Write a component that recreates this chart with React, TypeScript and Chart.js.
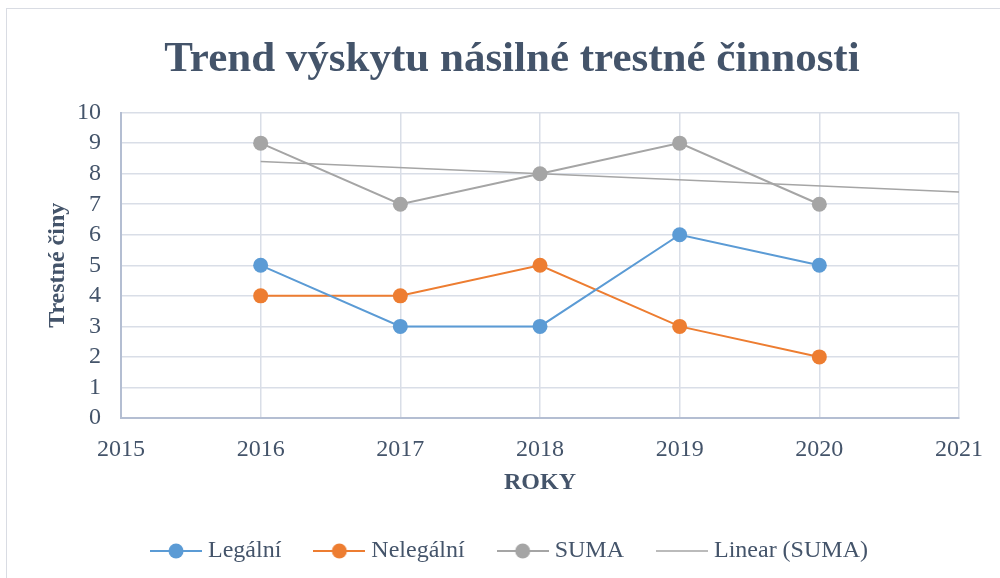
import React, { useEffect, useRef } from "react";
import { Chart, registerables } from "chart.js";

Chart.register(...registerables);

const years = [2016, 2017, 2018, 2019, 2020];
const legalni = [5, 3, 3, 6, 5];
const nelegalni = [4, 4, 5, 3, 2];
const suma = [9, 7, 8, 9, 7];
const trendYears = [2016, 2021];
const trendValues = [8.4, 7.4];
const xTicks = [2015, 2016, 2017, 2018, 2019, 2020, 2021];
const yTicks = [0, 1, 2, 3, 4, 5, 6, 7, 8, 9, 10];

const BLUE = "#5B9BD5";
const ORANGE = "#ED7D31";
const GREY = "#A5A5A5";
const TEXT = "#44546A";
const FONT = "'Liberation Serif', 'Times New Roman', serif";

function legendIcon(color: string, withDot: boolean): HTMLCanvasElement {
  const c = document.createElement("canvas");
  c.width = 52;
  c.height = 16;
  const ctx = c.getContext("2d")!;
  ctx.strokeStyle = color;
  ctx.lineWidth = withDot ? 2 : 1.5;
  ctx.beginPath();
  ctx.moveTo(0, 8);
  ctx.lineTo(52, 8);
  ctx.stroke();
  if (withDot) {
    ctx.fillStyle = color;
    ctx.beginPath();
    ctx.arc(26, 8, 7.5, 0, Math.PI * 2);
    ctx.fill();
  }
  return c;
}

export default function App() {
  const ref = useRef<HTMLCanvasElement>(null);

  useEffect(() => {
    document.body.style.margin = "0";
    const icons = [
      legendIcon(BLUE, true),
      legendIcon(ORANGE, true),
      legendIcon(GREY, true),
      legendIcon(GREY, false),
    ];
    const toXY = (xs: number[], ys: number[]) => xs.map((x, i) => ({ x, y: ys[i] }));
    const chart = new Chart(ref.current!, {
      type: "line",
      data: {
        datasets: [
          {
            label: "Legální",
            data: toXY(years, legalni),
            borderColor: BLUE,
            backgroundColor: BLUE,
            borderWidth: 2,
            pointRadius: 7.5,
            pointBorderWidth: 0,
          },
          {
            label: "Nelegální",
            data: toXY(years, nelegalni),
            borderColor: ORANGE,
            backgroundColor: ORANGE,
            borderWidth: 2,
            pointRadius: 7.5,
            pointBorderWidth: 0,
          },
          {
            label: "SUMA",
            data: toXY(years, suma),
            borderColor: GREY,
            backgroundColor: GREY,
            borderWidth: 2,
            pointRadius: 7.5,
            pointBorderWidth: 0,
          },
          {
            label: "Linear (SUMA)",
            data: toXY(trendYears, trendValues),
            borderColor: GREY,
            backgroundColor: GREY,
            borderWidth: 1.5,
            pointRadius: 0,
          },
        ],
      },
      options: {
        animation: false,
        responsive: false,
        layout: { padding: { left: 65, right: 41, top: 0, bottom: 5 } },
        elements: { point: { pointStyle: "circle" } },
        plugins: {
          tooltip: { enabled: false },
          title: {
            display: true,
            text: "Trend výskytu násilné trestné činnosti",
            color: TEXT,
            font: { family: FONT, size: 43, weight: "bold" },
            padding: { top: 34, bottom: 27 },
          },
          legend: {
            position: "bottom",
            labels: {
              usePointStyle: true,
              pointStyleWidth: 40,
              padding: 38,
              color: TEXT,
              font: { family: FONT, size: 24 },
              generateLabels: (ch: any) =>
                ch.data.datasets.map((d: any, i: number) => ({
                  text: d.label,
                  pointStyle: icons[i],
                  fontColor: TEXT,
                  strokeStyle: d.borderColor,
                  fillStyle: d.borderColor,
                  lineWidth: 0,
                  hidden: false,
                  datasetIndex: i,
                })),
            },
          },
        },
        scales: {
          x: {
            type: "linear",
            min: xTicks[0],
            max: xTicks[xTicks.length - 1],
            afterBuildTicks: (s: any) => {
              s.ticks = xTicks.map((v) => ({ value: v }));
            },
            afterFit: (s: any) => {
              s.height = 83;
            },
            ticks: {
              color: TEXT,
              font: { family: FONT, size: 24 },
              padding: 17,
              autoSkip: false,
              callback: (v: any) => String(v),
              maxRotation: 0,
            },
            grid: { color: "#D9DEE7", lineWidth: 1.5, drawTicks: false },
            border: { color: "#B4BED2", width: 2 },
            title: {
              display: true,
              text: "ROKY",
              color: TEXT,
              font: { family: FONT, size: 24, weight: "bold" },
              padding: { top: 8, bottom: 4 },
            },
          },
          y: {
            type: "linear",
            min: yTicks[0],
            max: yTicks[yTicks.length - 1],
            afterBuildTicks: (s: any) => {
              s.ticks = yTicks.map((v) => ({ value: v }));
            },
            afterFit: (s: any) => {
              s.width = 56;
            },
            ticks: {
              color: TEXT,
              font: { family: FONT, size: 24 },
              padding: 20,
              autoSkip: false,
            },
            grid: { color: "#D9DEE7", lineWidth: 1.5, drawTicks: false },
            border: { color: "#B4BED2", width: 2 },
            title: {
              display: true,
              text: "Trestné činy",
              color: TEXT,
              font: { family: FONT, size: 24, weight: "bold" },
              padding: { top: -22, bottom: 0 },
            },
          },
        },
      } as any,
    });
    return () => chart.destroy();
  }, []);

  return (
    <div style={{ position: "relative", width: 1000, height: 578, background: "#fff", overflow: "hidden" }}>
      <canvas ref={ref} width={1000} height={578} style={{ position: "absolute", left: 0, top: 0 }} />
      <div
        style={{
          position: "absolute",
          left: 6,
          top: 8,
          width: 1100,
          height: 700,
          border: "1.5px solid #D9DCE3",
          pointerEvents: "none",
        }}
      />
    </div>
  );
}
